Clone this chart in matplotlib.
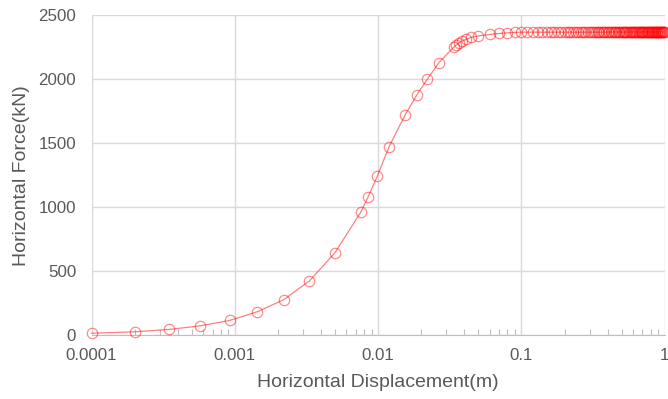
import matplotlib
matplotlib.use("Agg")
from matplotlib import pyplot as plt
from matplotlib.ticker import LogLocator, NullFormatter, FixedLocator, FixedFormatter
import numpy as np

plt.rcParams['font.family'] = ['Liberation Sans', 'DejaVu Sans']

# Displacement (m) and force (kN)
disp_rise = [0.0001, 0.0002, 0.00035, 0.000575, 0.00092, 0.00143, 0.00219, 0.00332,
             0.00499, 0.00757, 0.0085, 0.0099, 0.0119, 0.0154, 0.0187, 0.022, 0.0266,
             0.0336, 0.035, 0.0366, 0.0383, 0.041, 0.0445, 0.05, 0.06, 0.07, 0.08, 0.09]
force_rise = [15, 26, 45, 73, 115, 182, 276, 424,
              643, 961, 1078, 1245, 1470, 1719, 1880, 1998, 2130,
              2248, 2266, 2284, 2297, 2310, 2326, 2338, 2349, 2357, 2362, 2365]
# plateau: steps of 0.01 m from 0.1 to 1.0
disp_plateau = [round(0.1 + 0.01 * i, 2) for i in range(91)]
force_plateau = [2367] * 30 + [2368] * 30 + [2369] * 31

x_ticks = [0.0001, 0.001, 0.01, 0.1, 1]
x_labels = ['0.0001', '0.001', '0.01', '0.1', '1']
y_ticks = [0, 500, 1000, 1500, 2000, 2500]

disp = disp_rise + disp_plateau
force = force_rise + force_plateau

fig = plt.figure(figsize=(6.68, 3.99), dpi=100)
ax = fig.add_axes([0.137, 0.160, 0.858, 0.802])

ax.plot(disp, force, color=(1, 0, 0, 0.5), lw=0.9, marker='o', ms=7.5,
        mfc='none', mec=(1, 0, 0, 0.45), mew=0.9, clip_on=False, zorder=3)

ax.set_xscale('log')
ax.set_xlim(0.0001, 1)
ax.set_ylim(0, 2500)
ax.xaxis.set_major_locator(FixedLocator(x_ticks))
ax.xaxis.set_major_formatter(FixedFormatter(x_labels))
ax.xaxis.set_minor_locator(LogLocator(base=10, subs=np.arange(2, 10)))
ax.xaxis.set_minor_formatter(NullFormatter())
ax.set_yticks(y_ticks)

ax.grid(True, which='major', color='#D9D9D9', lw=1.0)
for s in ['top', 'right', 'left']:
    ax.spines[s].set_visible(False)
ax.spines['bottom'].set_color('#BFBFBF')
ax.tick_params(axis='both', which='major', length=0, labelsize=12.2,
               labelcolor='#595959')
ax.tick_params(axis='y', which='major', pad=11)
ax.tick_params(axis='x', which='major', pad=9)
ax.tick_params(axis='x', which='minor', direction='in', length=4,
               color='#BFBFBF', width=0.8)

ax.set_xlabel('Horizontal Displacement(m)', fontsize=14, color='#595959', labelpad=8)
ax.set_ylabel('Horizontal Force(kN)', fontsize=14, color='#595959', labelpad=6)

fig.savefig('out.png', dpi=100)
